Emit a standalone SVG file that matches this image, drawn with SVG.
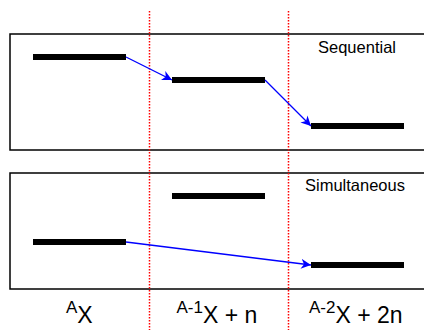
<svg xmlns="http://www.w3.org/2000/svg" width="424" height="330" viewBox="0 0 424 330">
<style>
.box{fill:#fff;stroke:#000;stroke-width:1.5}
.bar{fill:#000}
.div{stroke:#ff0000;stroke-width:1.5;stroke-dasharray:1.5 1.5;fill:none}
.arr{stroke:#0000ff;stroke-width:1.3;fill:none;marker-end:url(#ah)}
.lbl{font-family:"Liberation Sans",Arial,sans-serif;font-size:16.5px;fill:#000}
.sup{font-family:"Liberation Sans",Arial,sans-serif;font-size:17px;fill:#000}
.main{font-family:"Liberation Sans",Arial,sans-serif;font-size:23px;fill:#000}
</style>
<defs>
<marker id="ah" markerWidth="12" markerHeight="10" refX="10" refY="5" orient="auto" markerUnits="userSpaceOnUse">
<path d="M0,0 L10,5 L0,10 L3,5 Z" fill="#0000ff"/>
</marker>
</defs>
<rect width="424" height="330" fill="#fff"/>
<g id="panel-sequential">
<rect class="box" x="10" y="34" width="430" height="116"/>
<text class="lbl" x="318" y="53">Sequential</text>
</g>
<g id="panel-simultaneous">
<rect class="box" x="10" y="173" width="430" height="116"/>
<text class="lbl" x="305" y="191">Simultaneous</text>
</g>
<g id="seq-bar1"><rect class="bar" x="33" y="54" width="93" height="6"/></g>
<g id="seq-bar2"><rect class="bar" x="172" y="77" width="93" height="6"/></g>
<g id="seq-bar3"><rect class="bar" x="311" y="123" width="93" height="6"/></g>
<g id="sim-bar1"><rect class="bar" x="33" y="239" width="93" height="6"/></g>
<g id="sim-bar2"><rect class="bar" x="172" y="193" width="93" height="6"/></g>
<g id="sim-bar3"><rect class="bar" x="311" y="262" width="93" height="6"/></g>
<g id="dividers">
<line class="div" x1="149.5" y1="11" x2="149.5" y2="330"/>
<line class="div" x1="288.5" y1="11" x2="288.5" y2="330"/>
</g>
<g id="connectors">
<line class="arr" x1="126" y1="57" x2="172" y2="80"/>
<line class="arr" x1="265" y1="80" x2="311" y2="126"/>
<line class="arr" x1="126" y1="242" x2="311" y2="265"/>
</g>
<g id="label-ax"><text x="66" y="322.5"><tspan class="sup" dy="-9.5">A</tspan><tspan class="main" dy="9.5">X</tspan></text></g>
<g id="label-a1x"><text x="176.5" y="322.5"><tspan class="sup" dy="-9.5">A-1</tspan><tspan class="main" dy="9.5">X + n</tspan></text></g>
<g id="label-a2x"><text x="309" y="322.5"><tspan class="sup" dy="-9.5">A-2</tspan><tspan class="main" dy="9.5">X + 2n</tspan></text></g>
</svg>
